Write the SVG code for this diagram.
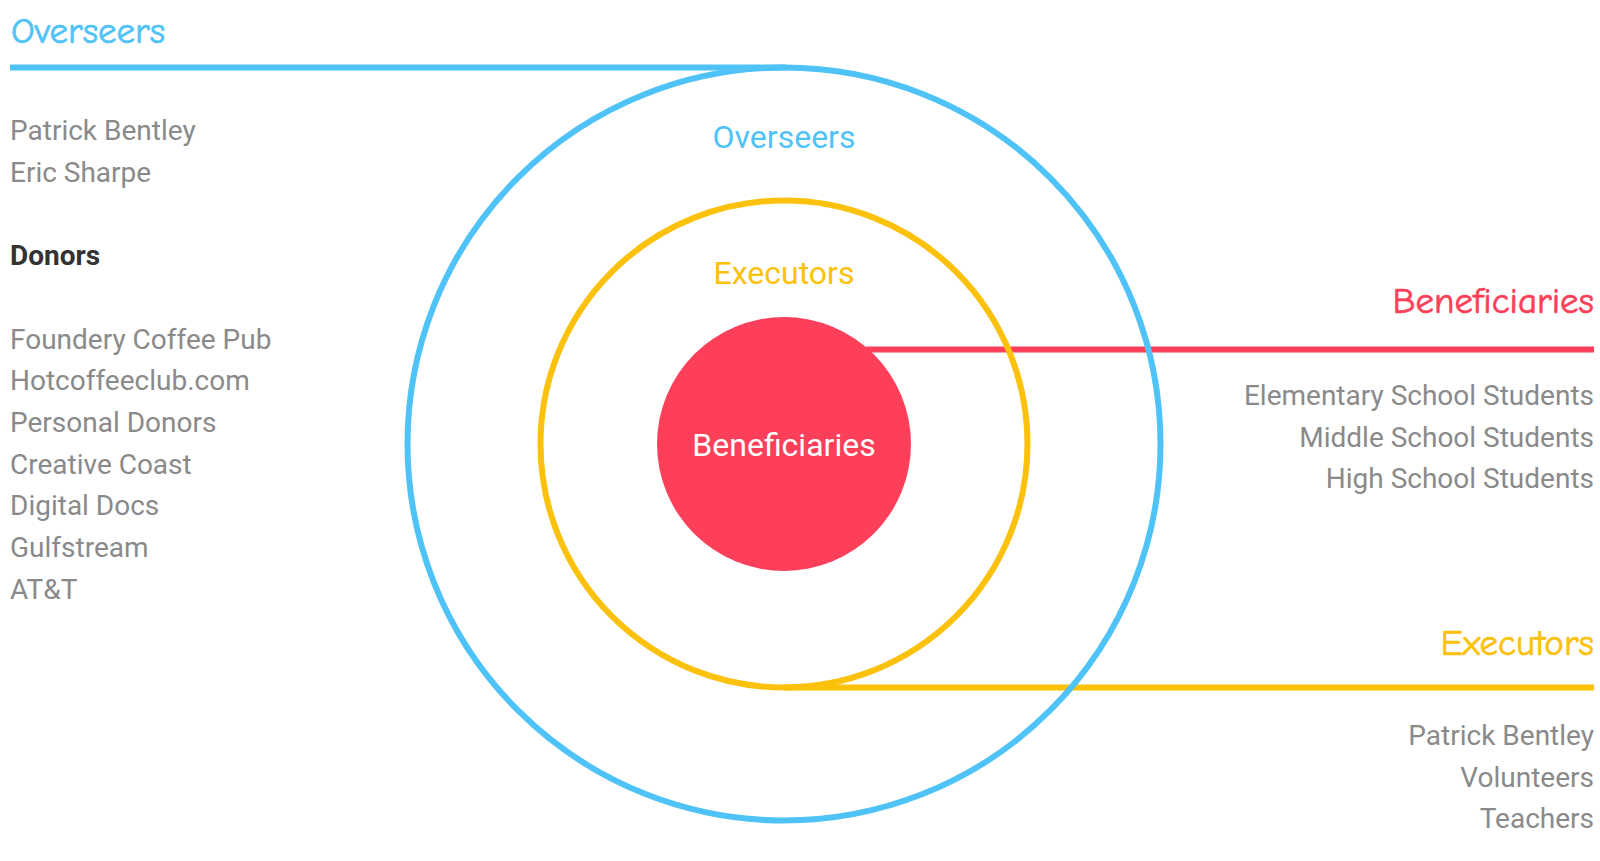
<svg xmlns="http://www.w3.org/2000/svg" width="1600" height="861" viewBox="0 0 1600 861">
<style>
.hand{font-family:"Comic Sans MS","Comic Neue",cursive;font-size:37px;stroke-width:0.7px}
.item{font-family:Roboto,"Liberation Sans",sans-serif;font-size:28px;fill:#8a8a8a}
.lbl{font-family:Roboto,"Liberation Sans",sans-serif;font-size:32px;text-anchor:middle}
.ring{fill:none;stroke-width:6}
.conn{stroke-width:6;fill:none}
</style>
<rect width="1600" height="861" fill="#fff"/>
<g id="connectors">
<line class="conn" x1="10" y1="67.5" x2="786" y2="67.5" stroke="#4fc3f7"/>
<line class="conn" x1="866" y1="349.5" x2="1594" y2="349.5" stroke="#fd3f59"/>
<line class="conn" x1="784" y1="687.5" x2="1594" y2="687.5" stroke="#fcc10a"/>
</g>
<g id="overseers-ring">
<circle class="ring" cx="784" cy="444" r="376.5" stroke="#4fc3f7"/>
<text class="lbl" x="784" y="148" fill="#4fc3f7">Overseers</text>
</g>
<g id="executors-ring">
<circle class="ring" cx="784" cy="444" r="243.5" stroke="#fcc10a"/>
<text class="lbl" x="784" y="284" fill="#fcc10a">Executors</text>
</g>
<g id="beneficiaries-core">
<circle cx="784" cy="444" r="127" fill="#fd3f59"/>
<text class="lbl" x="784" y="456" fill="#fff">Beneficiaries</text>
</g>
<g id="overseers-list">
<text class="hand" x="11" y="43" fill="#4fc3f7" stroke="#4fc3f7">Overseers</text>
<text class="item" x="10" y="140">Patrick Bentley</text>
<text class="item" x="10" y="181.5">Eric Sharpe</text>
</g>
<g id="donors-list">
<text class="item" x="10" y="265" style="font-weight:700;fill:#333">Donors</text>
<text class="item" x="10" y="348.5">Foundery Coffee Pub</text>
<text class="item" x="10" y="390">Hotcoffeeclub.com</text>
<text class="item" x="10" y="431.8">Personal Donors</text>
<text class="item" x="10" y="473.5">Creative Coast</text>
<text class="item" x="10" y="515">Digital Docs</text>
<text class="item" x="10" y="556.8">Gulfstream</text>
<text class="item" x="10" y="598.5">AT&amp;T</text>
</g>
<g id="beneficiaries-list" text-anchor="end">
<text class="hand" x="1594" y="313" fill="#fd3f59" stroke="#fd3f59">Beneficiaries</text>
<text class="item" x="1594" y="405">Elementary School Students</text>
<text class="item" x="1594" y="446.7">Middle School Students</text>
<text class="item" x="1594" y="488.3">High School Students</text>
</g>
<g id="executors-list" text-anchor="end">
<text class="hand" x="1594" y="655" fill="#fcc10a" stroke="#fcc10a">Executors</text>
<text class="item" x="1594" y="745">Patrick Bentley</text>
<text class="item" x="1594" y="786.7">Volunteers</text>
<text class="item" x="1594" y="828.3">Teachers</text>
</g>
</svg>
